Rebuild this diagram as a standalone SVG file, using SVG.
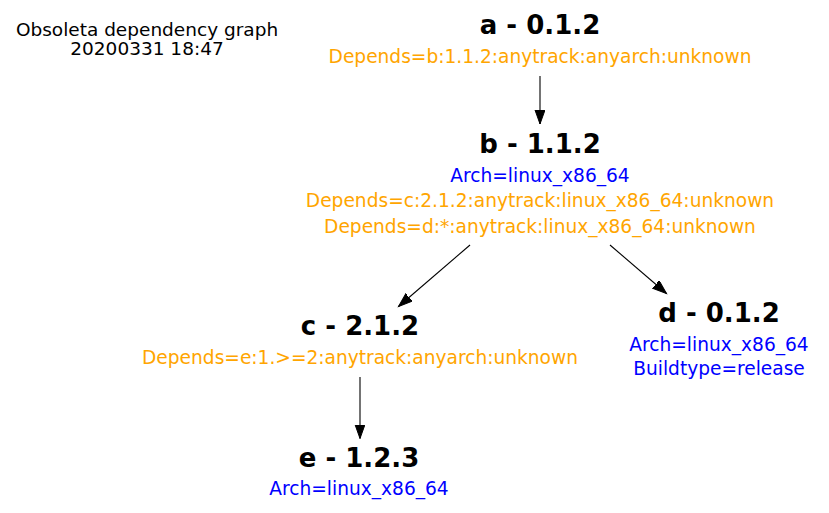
<svg xmlns="http://www.w3.org/2000/svg" width="829" height="513" viewBox="0 0 829 513">
<style>
text { font-family: "DejaVu Sans", Verdana, sans-serif; text-anchor: middle; }
.t { font-size: 26px; font-weight: bold; fill: #000000; }
.l { font-size: 18.6px; }
.o { fill: #ffa500; }
.b { fill: #0000ff; }
.g { font-size: 18.5px; fill: #000000; }
.e { stroke: #000000; stroke-width: 1.1; fill: none; }
</style>
<defs>
<marker id="arr" markerUnits="userSpaceOnUse" markerWidth="16" markerHeight="12" refX="14" refY="5" orient="auto">
<path d="M0,0 L14,5 L0,10 Z" fill="#000000" stroke="#000000" stroke-width="1"/>
</marker>
</defs>
<rect x="0" y="0" width="829" height="513" fill="#ffffff"/>
<g id="graph-label">
<text class="g" x="147" y="36">Obsoleta dependency graph</text>
<text class="g" x="147" y="55">20200331 18:47</text>
</g>
<g id="edges">
<line class="e" x1="540" y1="76" x2="540" y2="124" marker-end="url(#arr)"/>
<line class="e" x1="470" y1="245" x2="398.5" y2="306.5" marker-end="url(#arr)"/>
<line class="e" x1="610" y1="245" x2="666.5" y2="293.5" marker-end="url(#arr)"/>
<line class="e" x1="360" y1="377" x2="360" y2="438.5" marker-end="url(#arr)"/>
</g>
<g id="node-a">
<text class="t" x="540" y="34">a - 0.1.2</text>
<text class="l o" x="540" y="63">Depends=b:1.1.2:anytrack:anyarch:unknown</text>
</g>
<g id="node-b">
<text class="t" x="540" y="153">b - 1.1.2</text>
<text class="l b" x="540" y="181.5">Arch=linux_x86_64</text>
<text class="l o" x="540" y="207">Depends=c:2.1.2:anytrack:linux_x86_64:unknown</text>
<text class="l o" x="540" y="232.5">Depends=d:*:anytrack:linux_x86_64:unknown</text>
</g>
<g id="node-c">
<text class="t" x="360" y="335">c - 2.1.2</text>
<text class="l o" x="360" y="364">Depends=e:1.&gt;=2:anytrack:anyarch:unknown</text>
</g>
<g id="node-d">
<text class="t" x="719" y="321.5">d - 0.1.2</text>
<text class="l b" x="719" y="350.5">Arch=linux_x86_64</text>
<text class="l b" x="719" y="375">Buildtype=release</text>
</g>
<g id="node-e">
<text class="t" x="359" y="466.5">e - 1.2.3</text>
<text class="l b" x="359" y="495">Arch=linux_x86_64</text>
</g>
</svg>
